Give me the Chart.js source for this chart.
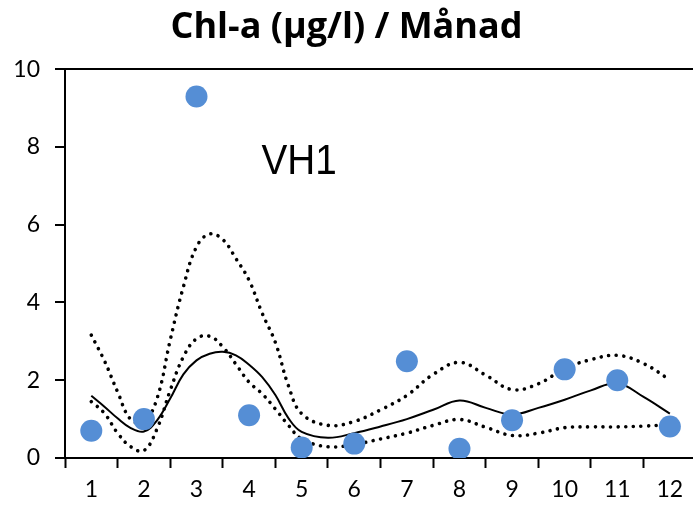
<!DOCTYPE html>
<html>
<head>
<meta charset="utf-8">
<script src="https://cdn.jsdelivr.net/npm/chart.js@4/dist/chart.umd.min.js"></script>
<style>
html,body{margin:0;padding:0;background:#fff;overflow:hidden}
#wrap{width:693px;height:506px;position:relative}
</style>
</head>
<body>
<div id="wrap"><canvas id="c"></canvas></div>
<script>
// ---- data ----
const chartTitle = 'Chl-a (µg/l) / Månad';
const stationLabel = 'VH1';
const months = [1, 2, 3, 4, 5, 6, 7, 8, 9, 10, 11, 12];
const monthValues = [0.70, 1.00, 9.30, 1.10, 0.27, 0.37, 2.49, 0.24, 0.97, 2.28, 2.00, 0.81];
const curveX = [1, 1.25, 1.5, 1.75, 2, 2.25, 2.5, 2.75, 3, 3.25, 3.5, 3.75, 4, 4.25, 4.5, 4.75, 5, 5.5, 6, 6.5, 7, 7.5, 8, 8.5, 9, 9.5, 10, 10.5, 11, 11.5, 12];
const medianCurve = [1.60, 1.32, 1.02, 0.77, 0.68, 0.97, 1.53, 2.15, 2.51, 2.68, 2.73, 2.64, 2.40, 2.08, 1.62, 1.02, 0.67, 0.52, 0.64, 0.81, 1.00, 1.24, 1.48, 1.29, 1.12, 1.29, 1.50, 1.74, 1.92, 1.57, 1.14];
const upperCurve  = [3.16, 2.50, 1.70, 0.99, 0.93, 1.53, 3.03, 4.40, 5.43, 5.76, 5.62, 5.13, 4.57, 3.72, 2.97, 1.85, 1.14, 0.84, 0.94, 1.24, 1.61, 2.15, 2.46, 2.13, 1.76, 1.91, 2.30, 2.53, 2.64, 2.43, 2.01];
const lowerCurve  = [1.45, 1.15, 0.64, 0.29, 0.19, 0.75, 1.74, 2.60, 3.07, 3.13, 2.86, 2.41, 1.95, 1.65, 1.26, 0.84, 0.49, 0.29, 0.35, 0.49, 0.64, 0.84, 0.99, 0.79, 0.58, 0.64, 0.78, 0.80, 0.80, 0.82, 0.86];
const yTickValues = [0, 2, 4, 6, 8, 10];
const xTickValues = [0.5, 1, 1.5, 2, 2.5, 3, 3.5, 4, 4.5, 5, 5.5, 6, 6.5, 7, 7.5, 8, 8.5, 9, 9.5, 10, 10.5, 11, 11.5, 12];

const pts = (xs, ys) => xs.map((x, i) => ({x: x, y: ys[i]}));
const tickFont = {family: 'Lato', size: 23};

const dotted = {
  borderColor: '#000', borderWidth: 3.6, borderDash: [0.01, 7.6], borderCapStyle: 'round',
  pointRadius: 0, tension: 0.4, fill: false, showLine: true, type: 'line', order: 2
};

const labelPlugin = {
  id: 'stationLabel',
  afterDatasetsDraw(chart) {
    const {ctx, scales} = chart;
    ctx.save();
    ctx.translate(scales.x.getPixelForValue(4.95), scales.y.getPixelForValue(7.3));
    ctx.scale(0.9, 1);
    ctx.font = '43px "Liberation Sans", Arial, sans-serif';
    ctx.fillStyle = '#000';
    ctx.textAlign = 'center';
    ctx.textBaseline = 'alphabetic';
    ctx.fillText(stationLabel, 0, 0);
    ctx.restore();
  }
};

new Chart(document.getElementById('c'), {
  type: 'scatter',
  data: {
    datasets: [
      {label: 'values', data: pts(months, monthValues), backgroundColor: '#558ED5', borderWidth: 0,
       pointRadius: 11, pointHoverRadius: 11, order: 0},
      Object.assign({label: 'median', data: pts(curveX, medianCurve)},
        {type: 'line', borderColor: '#000', borderWidth: 2, pointRadius: 0, tension: 0.4, fill: false, order: 1}),
      Object.assign({label: 'upper', data: pts(curveX, upperCurve)}, dotted),
      Object.assign({label: 'lower', data: pts(curveX, lowerCurve)}, dotted)
    ]
  },
  options: {
    responsive: true, maintainAspectRatio: false, animation: false,
    layout: {autoPadding: false, padding: {left: 0, right: 0, top: 0, bottom: 0}},
    plugins: {
      legend: {display: false},
      tooltip: {enabled: false},
      title: {display: true, text: chartTitle, color: '#000',
        font: {family: 'Open Sans', size: 36, weight: 'bold', lineHeight: 1.2}, padding: {top: 6, bottom: 20}}
    },
    scales: {
      x: {
        type: 'linear', min: 0.5, max: 12.44,
        afterBuildTicks: (axis) => { axis.ticks = xTickValues.map(v => ({value: v})); },
        afterFit: (s) => { s.height = 48; },
        ticks: {autoSkip: false, maxRotation: 0, color: '#000', font: tickFont, padding: 8,
          callback: (v) => (Number.isInteger(v) ? String(v) : '')},
        grid: {drawOnChartArea: false, tickLength: 10, tickWidth: 2,
          tickColor: (c) => (c.tick && !Number.isInteger(c.tick.value) ? '#000' : 'rgba(0,0,0,0)')},
        border: {color: '#000', width: 2}
      },
      y: {
        min: 0, max: 10,
        afterBuildTicks: (axis) => { axis.ticks = yTickValues.map(v => ({value: v})); },
        afterFit: (s) => { s.width = 65; },
        ticks: {color: '#000', font: tickFont, padding: 15},
        grid: {drawOnChartArea: true, lineWidth: 2, tickLength: 10, tickWidth: 2, tickColor: '#000',
          color: (c) => (c.tick && c.tick.value === 10 ? '#000' : 'rgba(0,0,0,0)')},
        border: {color: '#000', width: 2}
      }
    }
  },
  plugins: [labelPlugin]
});
</script>
</body>
</html>
